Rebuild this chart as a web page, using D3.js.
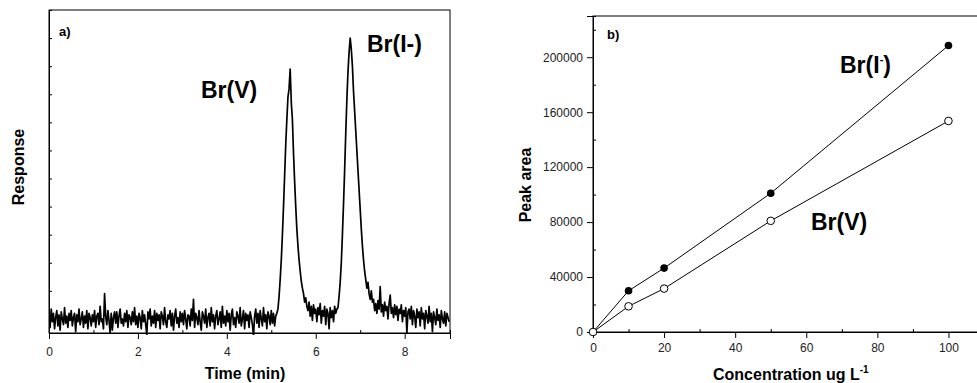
<!DOCTYPE html>
<html>
<head>
<meta charset="utf-8">
<title>Bromate / bromide chromatogram and calibration</title>
<script src="https://cdn.jsdelivr.net/npm/d3@7"></script>
<style>
  body { margin: 0; background: #fff; }
  text { font-family: Arial, "Liberation Sans", sans-serif; }
</style>
</head>
<body>
<svg id="chart" width="977" height="383"></svg>
<script>
// ---- panel a) chromatogram, sampled every 0.025 min ----
var dt = 0.025;
var baselineStart = 0;
var baseline = [
  0.1,-0.3,0.35,-0.1,0.2,-0.35,0.05,0.3,-0.25,0.15,-0.4,0.25,0.0,-0.2,0.4,-0.15,0.1,-0.3,0.2,-0.05,
  0.3,-0.25,0.05,0.2,-0.45,0.15,-0.1,0.35,-0.2,0.0,0.25,-0.3,0.1,-0.15,0.3,-0.35,0.2,0.05,-0.25,0.15,
  -0.1,0.3,-0.3,0.1,0.2,-0.2,0.45,-0.1,0.0,-0.35,0.9,0.1,-0.2,0.3,-0.05,-0.5,0.2,-0.4,0.05,0.25,
  -0.15,0.25,-0.3,0.1,0.35,-0.15,0.0,-0.25,0.2,-0.1,0.3,-0.3,0.15,0.05,-0.2,0.25,-0.1,0.4,-0.2,0.1,
  -0.3,0.2,0.05,-0.35,0.3,-0.1,0.15,-0.2,-0.55,0.25,0.0,0.35,-0.25,0.1,-0.15,0.3,-0.3,0.2,-0.05,0.15,
  -0.35,0.25,0.1,-0.2,0.4,-0.1,-0.3,0.15,0.0,0.3,-0.25,0.2,-0.4,0.1,0.35,-0.15,0.05,-0.3,0.25,-0.1,
  0.2,-0.2,0.3,0.0,-0.35,0.15,0.1,-0.25,0.35,-0.05,0.7,-0.3,0.2,0.05,-0.2,0.3,-0.1,-0.4,0.25,0.1,
  -0.15,0.35,-0.3,0.05,0.2,-0.25,0.4,-0.1,0.15,-0.35,0.1,0.3,-0.2,0.0,0.25,-0.3,0.45,-0.15,0.1,-0.25,
  0.3,-0.1,0.2,-0.4,0.15,0.35,-0.2,0.05,-0.3,0.25,0.1,-0.15,0.4,-0.25,0.0,0.3,-0.35,0.2,-0.05,0.15,
  -0.3,0.25,0.05,-0.2,-0.6,0.1,0.35,-0.15,0.2,-0.3,0.3,0.0,-0.25,0.4,-0.1,0.15,-0.35,0.25,0.1,-0.2,
  0.3,-0.15,0.2,-0.25,0.1
];
var peakVStart = 5.125;
var peakV = [0.2,0.35,0.8,1.4,2.1,3.0,4.0,5.1,6.2,7.1,7.9,8.2,8.9,7.7,7.1,5.9,4.9,4.0,3.2,2.6,2.1,1.7,1.35,1.1,0.9,0.6,0.75,0.45];
var valleyStart = 5.825;
var valley = [0.3,0.6,0.1,0.45,-0.05,0.5,0.2,0.35,-0.1,0.4,0.15,0.55,-0.15,0.3,0.1,0.45,-0.2,0.35,0.2,-0.35,0.4,0.05,0.3,-0.1,0.45,0.2,0.35];
var peakIStart = 6.5;
var peakI = [0.4,0.8,1.3,2.0,3.0,4.1,5.3,6.6,7.8,8.8,9.5,10.0,9.6,9.0,8.1,7.4,6.7,6.0,5.3,4.6,3.9,3.2,2.6,2.1,1.7,1.4,1.1,1.3,0.9,0.7,1.0,0.6];
var tailStart = 7.3;
var tail = [
  0.7,0.3,0.55,0.2,0.65,0.35,1.15,0.25,0.5,0.1,0.6,0.3,0.45,0.0,0.55,0.85,0.2,0.4,0.05,0.5,
  0.15,0.45,-0.05,0.35,0.2,0.5,-0.1,0.3,0.1,0.4,-0.5,0.25,0.35,0.0,0.45,-0.2,0.3,0.1,-0.3,0.35,
  0.05,0.25,-0.25,0.4,0.0,0.2,-0.35,0.3,0.1,-0.15,0.45,-0.1,0.2,-0.45,0.25,0.05,-0.2,0.35,-0.05,0.15,
  -0.3,0.3,0.0,-0.15,0.25,-0.25,0.2,0.05,-0.1
];
var timeTicks = [0, 2, 4, 6, 8];

// ---- panel b) calibration ----
var conc = [0, 10, 20, 50, 100];
var areaBrI = [0, 30000, 46500, 101000, 208500];
var areaBrV = [0, 18700, 31600, 80900, 153600];
var concTicks = [0, 20, 40, 60, 80, 100];
var areaTicks = [0, 40000, 80000, 120000, 160000, 200000];

var svg = d3.select("#chart");

function seg(t0, vals) {
  return vals.map(function(v, j) { return { t: t0 + j * dt, v: v }; });
}
var trace = [].concat(
  seg(baselineStart, baseline),
  seg(peakVStart, peakV),
  seg(valleyStart, valley),
  seg(peakIStart, peakI),
  seg(tailStart, tail)
);

// ================= panel a =================
var xA = d3.scaleLinear().domain([0, 9.02]).range([49, 450]);
var yA = d3.scaleLinear().domain([-0.5, 11]).range([333, 10]);

svg.append("clipPath").attr("id", "clipA")
  .append("rect").attr("x", 49).attr("y", 10).attr("width", 401).attr("height", 325);

svg.append("path")
  .datum(trace)
  .attr("clip-path", "url(#clipA)")
  .attr("fill", "none")
  .attr("stroke", "#000")
  .attr("stroke-width", 1.7)
  .attr("stroke-linejoin", "round")
  .attr("d", d3.line().x(function(d) { return xA(d.t); }).y(function(d) { return yA(d.v); }));

svg.append("g").attr("transform", "translate(0,333)")
  .call(d3.axisBottom(xA).tickValues(timeTicks).tickSize(6).tickPadding(8).tickFormat(d3.format("d")));
svg.append("g").attr("transform", "translate(0,333)")
  .call(d3.axisBottom(xA).tickValues([1, 3, 5, 7]).tickSize(-3).tickFormat(""));
svg.append("g").attr("transform", "translate(49,0)")
  .call(d3.axisLeft(yA).tickValues(d3.range(0, 11)).tickSize(-3).tickFormat(""));

svg.append("rect").attr("x", 49).attr("y", 10).attr("width", 401).attr("height", 323)
  .attr("fill", "none").attr("stroke", "#000").attr("stroke-width", 1);

svg.append("text").attr("x", 59).attr("y", 36).attr("font-size", 13).attr("font-weight", "bold").text("a)");
svg.append("text").attr("x", 201).attr("y", 98).attr("font-size", 23).attr("font-weight", "bold").text("Br(V)");
svg.append("text").attr("x", 367).attr("y", 52).attr("font-size", 23).attr("font-weight", "bold").text("Br(I-)");
svg.append("text").attr("x", 245).attr("y", 379).attr("text-anchor", "middle")
  .attr("font-size", 16).attr("font-weight", "bold").text("Time (min)");
svg.append("text").attr("transform", "translate(24,167) rotate(-90)").attr("text-anchor", "middle")
  .attr("font-size", 16).attr("font-weight", "bold").text("Response");

// ================= panel b =================
var xB = d3.scaleLinear().domain([0, 110]).range([593, 984]);
var yB = d3.scaleLinear().domain([0, 230000]).range([332, 16]);

svg.append("g").attr("transform", "translate(0,332)")
  .call(d3.axisBottom(xB).tickValues(concTicks).tickSize(6).tickPadding(5).tickFormat(d3.format("d")));
svg.append("g").attr("transform", "translate(0,332)")
  .call(d3.axisBottom(xB).tickValues([10, 30, 50, 70, 90]).tickSize(-3).tickFormat(""));
svg.append("g").attr("transform", "translate(593,0)")
  .call(d3.axisLeft(yB).tickValues(areaTicks).tickSize(6).tickPadding(4).tickFormat(d3.format("d")));
svg.append("g").attr("transform", "translate(593,0)")
  .call(d3.axisLeft(yB).tickValues([20000, 60000, 100000, 140000, 180000, 220000]).tickSize(-3).tickFormat(""));

svg.append("rect").attr("x", 593).attr("y", 16).attr("width", 400).attr("height", 316)
  .attr("fill", "none").attr("stroke", "#000").attr("stroke-width", 1);

var lineB = d3.line().x(function(d, i) { return xB(conc[i]); }).y(function(d) { return yB(d); });
svg.append("path").datum(areaBrI).attr("fill", "none").attr("stroke", "#000").attr("stroke-width", 1).attr("d", lineB);
svg.append("path").datum(areaBrV).attr("fill", "none").attr("stroke", "#000").attr("stroke-width", 1).attr("d", lineB);

svg.selectAll(".ptI").data(areaBrI.slice(1)).enter().append("circle")
  .attr("cx", function(d, i) { return xB(conc[i + 1]); })
  .attr("cy", function(d) { return yB(d); })
  .attr("r", 3.8).attr("fill", "#000");
svg.selectAll(".ptV").data(areaBrV).enter().append("circle")
  .attr("cx", function(d, i) { return xB(conc[i]); })
  .attr("cy", function(d) { return yB(d); })
  .attr("r", 3.8).attr("fill", "#fff").attr("stroke", "#000").attr("stroke-width", 1);

svg.append("text").attr("x", 607).attr("y", 39).attr("font-size", 13).attr("font-weight", "bold").text("b)");
var tI = svg.append("text").attr("x", 840).attr("y", 73).attr("font-size", 23).attr("font-weight", "bold");
tI.append("tspan").text("Br(I");
tI.append("tspan").attr("font-size", 11).attr("dy", -10).text("-");
tI.append("tspan").attr("dy", 10).text(")");
svg.append("text").attr("x", 811).attr("y", 230).attr("font-size", 23).attr("font-weight", "bold").text("Br(V)");

var tX = svg.append("text").attr("x", 713).attr("y", 380).attr("font-size", 16).attr("font-weight", "bold");
tX.append("tspan").text("Concentration ug L");
tX.append("tspan").attr("font-size", 10).attr("dy", -7).text("-1");
svg.append("text").attr("transform", "translate(531,185) rotate(-90)").attr("text-anchor", "middle")
  .attr("font-size", 16).attr("font-weight", "bold").text("Peak area");

// axis styling
svg.selectAll(".domain").attr("stroke", "#000");
svg.selectAll(".tick line").attr("stroke", "#000");
svg.selectAll(".tick text").attr("font-size", 12).attr("fill", "#222")
  .attr("font-family", "Arial, 'Liberation Sans', sans-serif");
</script>
</body>
</html>
